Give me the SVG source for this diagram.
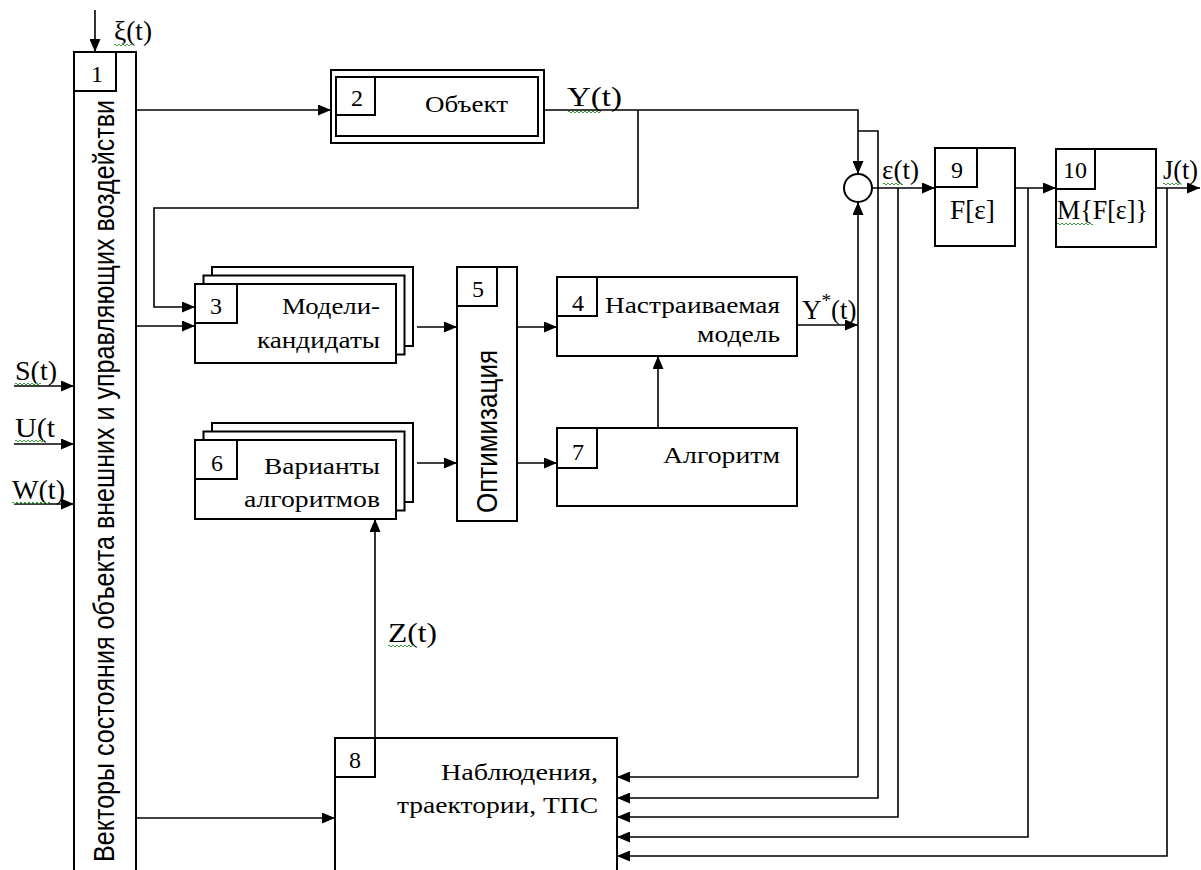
<svg xmlns="http://www.w3.org/2000/svg" width="1201" height="870" viewBox="0 0 1201 870">
<style>
.box{fill:#fff;stroke:#000;stroke-width:2}
.num{font-family:"Liberation Serif","DejaVu Serif",serif;font-size:24px;text-anchor:middle;fill:#000}
.lbl{font-family:"Liberation Serif","DejaVu Serif",serif;font-size:27px;fill:#000}
.cyr{font-family:"Liberation Serif","DejaVu Serif","Noto Serif",serif;font-size:24px;fill:#000}
.end{text-anchor:end}
.vt{font-family:"Liberation Sans",Arial,sans-serif;font-size:29px;fill:#000}
.wavy{fill:none;stroke:#3c9c3c;stroke-width:1}
.con{fill:none;stroke:#000;stroke-width:1.6}
</style>
<defs>
<marker id="arr" markerUnits="userSpaceOnUse" markerWidth="13" markerHeight="11" refX="13" refY="5.5" orient="auto">
<path d="M0,0 L13,5.5 L0,11 z" fill="#000"/>
</marker>
</defs>
<rect width="1201" height="870" fill="#fff"/>

<g id="connectors" class="con">
<path d="M95,10 V52" marker-end="url(#arr)"/>
<path d="M14,386 H74" marker-end="url(#arr)"/>
<path d="M14,444 H74" marker-end="url(#arr)"/>
<path d="M14,504 H74" marker-end="url(#arr)"/>
<path d="M136,110 H331" marker-end="url(#arr)"/>
<path d="M544,110 H858 V174" marker-end="url(#arr)"/>
<path d="M638,110 V208 H154 V307 H195" marker-end="url(#arr)"/>
<path d="M858,131 H878 V798 H617" marker-end="url(#arr)"/>
<path d="M136,326 H195" marker-end="url(#arr)"/>
<path d="M417,327 H457" marker-end="url(#arr)"/>
<path d="M517,327 H557" marker-end="url(#arr)"/>
<path d="M417,463 H457" marker-end="url(#arr)"/>
<path d="M517,463 H557" marker-end="url(#arr)"/>
<path d="M658,428 V356" marker-end="url(#arr)"/>
<path d="M797,325 H858" marker-end="url(#arr)"/>
<path d="M858,777 V202" marker-end="url(#arr)"/>
<path d="M858,777 H617" marker-end="url(#arr)"/>
<path d="M872,188 H935" marker-end="url(#arr)"/>
<path d="M898,188 V817 H617" marker-end="url(#arr)"/>
<path d="M1015,188 H1056" marker-end="url(#arr)"/>
<path d="M1028,188 V837 H617" marker-end="url(#arr)"/>
<path d="M1156,188 H1200" marker-end="url(#arr)"/>
<path d="M1167,188 V856 H617" marker-end="url(#arr)"/>
<path d="M375,738 V519" marker-end="url(#arr)"/>
<path d="M136,818 H335" marker-end="url(#arr)"/>
</g>

<g id="sum">
<circle cx="858" cy="188" r="14" class="box" stroke-width="1.6"/>
</g>

<g id="node1">
<rect class="box" x="74" y="52" width="62" height="830"/>
<rect class="box" x="74" y="52" width="42" height="39"/>
<text class="num" x="97" y="82">1</text>
<text class="vt" transform="translate(114,862) rotate(-90)" textLength="762" lengthAdjust="spacingAndGlyphs">Векторы состояния объекта внешних и управляющих воздействи</text>
</g>

<g id="node2">
<rect class="box" x="331" y="70" width="213" height="73"/>
<rect class="box" x="336" y="77" width="202" height="59"/>
<rect class="box" x="336" y="77" width="39" height="38"/>
<text class="num" x="357" y="106">2</text>
<text class="cyr" x="425" y="112" textLength="83" lengthAdjust="spacingAndGlyphs">Объект</text>
</g>

<g id="node3">
<rect class="box" x="212" y="267" width="201" height="79"/>
<rect class="box" x="203.5" y="275.5" width="201" height="79"/>
<rect class="box" x="195" y="284" width="201" height="79"/>
<rect class="box" x="195" y="284" width="42" height="39"/>
<text class="num" x="216" y="314">3</text>
<text class="cyr" x="282" y="314" textLength="98" lengthAdjust="spacingAndGlyphs">Модели-</text>
<text class="cyr" x="257" y="348" textLength="123" lengthAdjust="spacingAndGlyphs">кандидаты</text>
</g>

<g id="node4">
<rect class="box" x="557" y="277" width="240" height="79"/>
<rect class="box" x="557" y="277" width="40" height="39"/>
<text class="num" x="578" y="311">4</text>
<text class="cyr" x="605" y="313" textLength="175" lengthAdjust="spacingAndGlyphs">Настраиваемая</text>
<text class="cyr" x="697" y="342" textLength="83" lengthAdjust="spacingAndGlyphs">модель</text>
</g>

<g id="node5">
<rect class="box" x="457" y="267" width="60" height="254"/>
<rect class="box" x="457" y="267" width="40" height="39"/>
<text class="num" x="478" y="297">5</text>
<text class="vt" transform="translate(497,513) rotate(-90)" textLength="163" lengthAdjust="spacingAndGlyphs">Оптимизация</text>
</g>

<g id="node6">
<rect class="box" x="212" y="423" width="201" height="79"/>
<rect class="box" x="203.5" y="431.5" width="201" height="79"/>
<rect class="box" x="195" y="440" width="201" height="79"/>
<rect class="box" x="195" y="440" width="42" height="39"/>
<text class="num" x="217" y="471">6</text>
<text class="cyr" x="264" y="474" textLength="116" lengthAdjust="spacingAndGlyphs">Варианты</text>
<text class="cyr" x="244" y="507" textLength="136" lengthAdjust="spacingAndGlyphs">алгоритмов</text>
</g>

<g id="node7">
<rect class="box" x="557" y="428" width="240" height="78"/>
<rect class="box" x="557" y="428" width="40" height="40"/>
<text class="num" x="578" y="460">7</text>
<text class="cyr" x="663" y="463" textLength="117" lengthAdjust="spacingAndGlyphs">Алгоритм</text>
</g>

<g id="node8">
<rect class="box" x="335" y="738" width="282" height="150"/>
<rect class="box" x="335" y="738" width="40" height="39"/>
<text class="num" x="355" y="768">8</text>
<text class="cyr" x="441" y="780" textLength="157" lengthAdjust="spacingAndGlyphs">Наблюдения,</text>
<text class="cyr" x="397" y="813" textLength="201" lengthAdjust="spacingAndGlyphs">траектории, ТПС</text>
</g>

<g id="node9">
<rect class="box" x="935" y="148" width="80" height="98"/>
<rect class="box" x="935" y="148" width="42" height="39"/>
<text class="num" x="957" y="178">9</text>
<text class="lbl" x="950" y="219" textLength="45" lengthAdjust="spacingAndGlyphs">F[ε]</text>
</g>

<g id="node10">
<rect class="box" x="1056" y="149" width="100" height="98"/>
<rect class="box" x="1056" y="149" width="39" height="40"/>
<text class="num" x="1075" y="178">10</text>
<text class="lbl" x="1057" y="219" textLength="91" lengthAdjust="spacingAndGlyphs">M{F[ε]}</text>
</g>

<g id="labels">
<text class="lbl" x="114" y="40" textLength="38" lengthAdjust="spacingAndGlyphs">ξ(t)</text>
<text class="lbl" x="567" y="106" font-size="32" textLength="55" lengthAdjust="spacingAndGlyphs">Y(t)</text>
<text class="lbl" x="802" y="319" font-size="32">Y<tspan font-size="19" dy="-12">*</tspan><tspan dy="12">(t)</tspan></text>
<text class="lbl" x="882" y="179" textLength="37" lengthAdjust="spacingAndGlyphs">ε(t)</text>
<text class="lbl" x="1163" y="179" textLength="35" lengthAdjust="spacingAndGlyphs">J(t)</text>
<text class="lbl" x="15" y="380" textLength="42" lengthAdjust="spacingAndGlyphs">S(t)</text>
<text class="lbl" x="15" y="437" textLength="40" lengthAdjust="spacingAndGlyphs">U(t</text>
<text class="lbl" x="12" y="499" textLength="53" lengthAdjust="spacingAndGlyphs">W(t)</text>
<text class="lbl" x="388" y="642" font-size="30" textLength="49" lengthAdjust="spacingAndGlyphs">Z(t)</text>
</g>

<g id="spellmarks" class="wavy">
<path d="M114,45 q1,-2 2,0 t2,0 t2,0 t2,0 t2,0 t2,0 t2,0 t2,0 t2,0"/>
<path d="M568,112 q1,-2 2,0 t2,0 t2,0 t2,0 t2,0 t2,0 t2,0 t2,0 t2,0 t2,0 t2,0 t2,0 t2,0 t2,0 t2,0 t2,0"/>
<path d="M883,184 q1,-2 2,0 t2,0 t2,0 t2,0 t2,0 t2,0 t2,0 t2,0 t2,0 t2,0"/>
<path d="M1057,224 q1,-2 2,0 t2,0 t2,0 t2,0 t2,0 t2,0 t2,0 t2,0 t2,0 t2,0 t2,0 t2,0 t2,0 t2,0 t2,0 t2,0 t2,0 t2,0"/>
<path d="M1163,184 q1,-2 2,0 t2,0 t2,0 t2,0 t2,0 t2,0 t2,0 t2,0 t2,0"/>
<path d="M15,384 q1,-2 2,0 t2,0 t2,0 t2,0 t2,0 t2,0 t2,0 t2,0 t2,0 t2,0 t2,0 t2,0 t2,0"/>
<path d="M15,441 q1,-2 2,0 t2,0 t2,0 t2,0 t2,0 t2,0 t2,0 t2,0 t2,0 t2,0 t2,0 t2,0 t2,0 t2,0 t2,0"/>
<path d="M12,503 q1,-2 2,0 t2,0 t2,0 t2,0 t2,0 t2,0 t2,0 t2,0 t2,0 t2,0 t2,0 t2,0 t2,0 t2,0 t2,0 t2,0 t2,0 t2,0 t2,0"/>
<path d="M388,646 q1,-2 2,0 t2,0 t2,0 t2,0 t2,0 t2,0 t2,0 t2,0 t2,0 t2,0 t2,0 t2,0 t2,0"/>
</g>
</svg>
